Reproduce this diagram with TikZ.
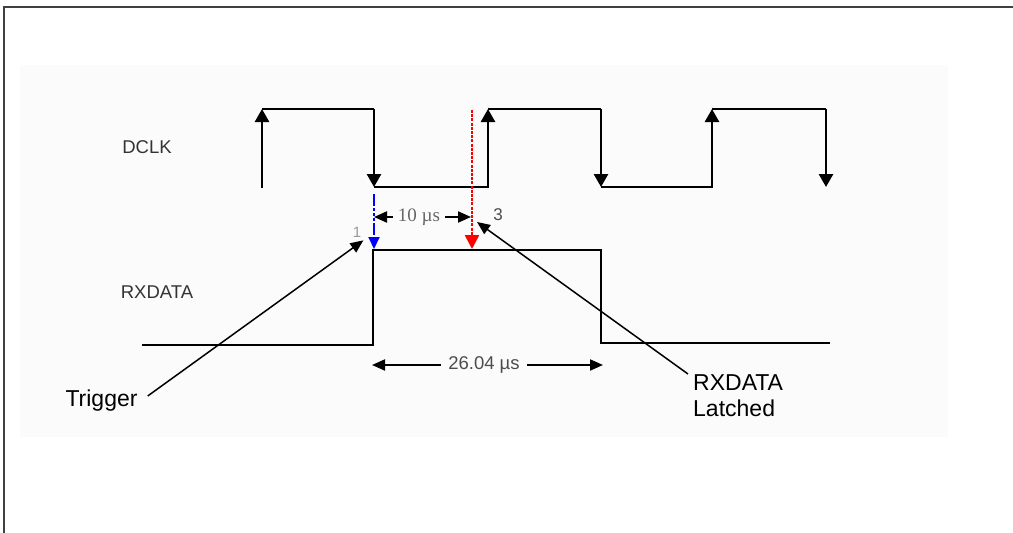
\documentclass[tikz,border=0pt]{standalone}
\usepackage{fontspec}
\setmainfont{Liberation Sans}
\newfontfamily\timesfont{Liberation Serif}
\usetikzlibrary{arrows.meta,positioning}

\begin{document}
\begin{tikzpicture}[
  x=1pt, y=-1pt,
  wave/.style={line width=2.7pt},
  edge/.style={-{Triangle[width=14pt,length=13pt]}, line width=2.7pt},
  dim/.style={-{Triangle[width=11pt,length=13pt]}, line width=2pt},
  note/.style={-{Triangle[width=11pt,length=13pt]}, line width=1.5pt},
  sig/.style={text=black!80, font=\fontsize{18.5}{20}\selectfont, inner sep=0pt},
  lbl/.style={font=\fontsize{23}{26}\selectfont, inner sep=0pt, align=left}
]
\useasboundingbox (0,0) rectangle (1013,533);
\fill[black!1.5] (20,65) rectangle (948,437);
\draw[black!75, line width=2pt] (4,533) -- (4,6.5) -- (1013,6.5);

\node[sig] (dclk) at (147,147) {DCLK};
\node[sig] (rxdata) at (157,292) {RXDATA};

\foreach \x in {262,488,712} \draw[edge] (\x,188) -- (\x,109);
\foreach \x in {374,601,826} \draw[edge] (\x,109) -- (\x,187);
\draw[wave] (262,109) -- (374,109) (374,187) -- (488,187) (488,109) -- (601,109)
  (601,187) -- (712,187) (712,109) -- (826,109);

\draw[wave] (142,345) -- (373,345) -- (373,250) -- (601,250) -- (601,343) -- (830,343);

\coordinate (trigtop) at (374,194);
\coordinate (trigbot) at (374,249);
\coordinate (latchtop) at (472,110);
\coordinate (latchbot) at (472,249);
\draw[blue, line width=2pt, dash pattern=on 12pt off 2pt on 3pt off 2pt on 3pt off 2pt on 3pt off 2pt,
  -{Triangle[width=11pt,length=12pt]}] (trigtop) -- (trigbot);
\draw[red, line width=2.6pt, dash pattern=on 3pt off 1.2pt,
  -{Triangle[width=14pt,length=14pt]}] (latchtop) -- (latchbot);

\node[font=\timesfont\fontsize{19}{20}\selectfont, text=black!60, inner xsep=5pt, inner ysep=0pt] (ten) at (419,217) {10 µs};
\coordinate (tenl) at (374,217);
\coordinate (tenr) at (471,217);
\draw[dim] (ten.west) -- (tenl);
\draw[dim] (ten.east) -- (tenr);

\node[font=\fontsize{18.5}{20}\selectfont, text=black!70, inner xsep=7pt, inner ysep=0pt] (width) at (484,365) {26.04 µs};
\coordinate (rise) at (372,365);
\coordinate (fall) at (603,365);
\draw[dim] (width.west) -- (rise);
\draw[dim] (width.east) -- (fall);

\node[font=\fontsize{15}{16}\selectfont, text=black!40, inner sep=0pt] (one) at (357,232) {1};
\node[font=\fontsize{17}{18}\selectfont, text=black!70, inner sep=0pt] (three) at (498,215) {3};

\node[lbl] (trig) at (101.5,401) {Trigger};
\node[lbl, anchor=north west] (latch) at (693,374) {RXDATA\\Latched};
\coordinate (hit) at (477,222);

\draw[note] ([shift={(10pt,5pt)}]trig.east) -- ([shift={(2pt,-3pt)}]one.south east);
\draw[note] ([xshift=-5pt]latch.north west) -- (hit);

\end{tikzpicture}
\end{document}
